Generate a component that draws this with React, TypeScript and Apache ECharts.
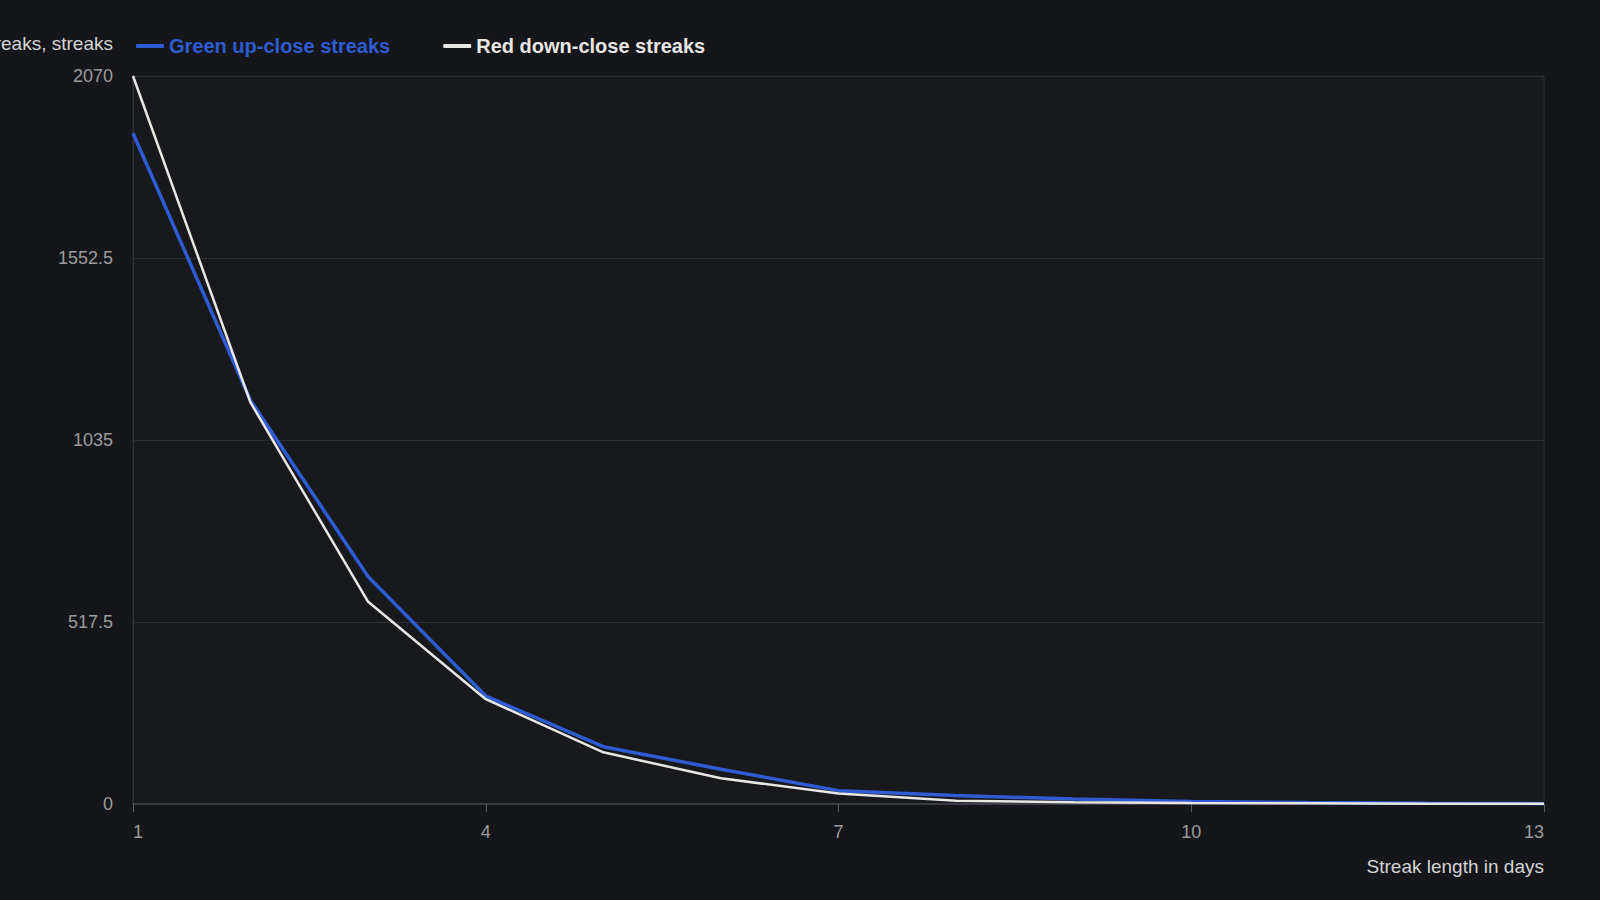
import React, { useEffect, useRef } from "react";
import * as echarts from "echarts";

const streakLengths = ["1", "2", "3", "4", "5", "6", "7", "8", "9", "10", "11", "12", "13"];
const greenUpClose = [1907, 1147, 646, 307, 163, 99, 38, 24, 14, 7, 4, 2, 1];
const redDownClose = [2070, 1141, 575, 298, 147, 73, 30, 9, 5, 3, 2, 1, 1];
const yTicks = { min: 0, max: 2070, interval: 517.5 };

const BG = "#14161a";
const BLUE = "#2f5bd3";
const WHITE = "#e9e7e4";

export default function App() {
  const ref = useRef<HTMLDivElement>(null);
  useEffect(() => {
    document.body.style.margin = "0";
    document.body.style.background = BG;
    const chart = echarts.init(ref.current!, null, { renderer: "svg" });
    chart.setOption({
      animation: false,
      backgroundColor: BG,
      textStyle: { fontFamily: "Liberation Sans, Arial, sans-serif" },
      legend: {
        left: 131,
        top: 31,
        itemGap: 53,
        itemWidth: 28,
        itemHeight: 4,
        icon: "roundRect",
        textStyle: { fontSize: 20, fontWeight: "bold" },
        data: [
          { name: "Green up-close streaks", textStyle: { color: BLUE } },
          { name: "Red down-close streaks", textStyle: { color: WHITE } },
        ],
      },
      grid: {
        left: 133,
        right: 56,
        top: 76,
        bottom: 96,
        containLabel: false,
        outerBoundsMode: "none",
        show: true,
        backgroundColor: "#17191d",
        borderColor: "#2b2e34",
        borderWidth: 1,
      },
      xAxis: {
        type: "category",
        data: streakLengths,
        boundaryGap: false,
        name: "Streak length in days",
        nameLocation: "end",
        nameGap: 0,
        nameTextStyle: {
          color: "#d4d4d4",
          fontSize: 19,
          align: "right",
          verticalAlign: "top",
          padding: [53, 0, 0, 0],
        },
        axisLine: { lineStyle: { color: "#3a3d44", width: 2 } },
        axisTick: { show: true, interval: 2, length: 8, lineStyle: { color: "#5a5d64" } },
        axisLabel: {
          interval: 2,
          color: "#9c9c9c",
          fontSize: 18,
          margin: 19,
          alignMinLabel: "left",
          alignMaxLabel: "right",
        },
        splitLine: { show: false },
      },
      yAxis: {
        type: "value",
        min: yTicks.min,
        max: yTicks.max,
        interval: yTicks.interval,
        name: "Number of streaks, streaks",
        nameLocation: "end",
        nameGap: 23,
        nameTextStyle: {
          color: "#d4d4d4",
          fontSize: 19,
          align: "right",
          padding: [0, 20, 0, 0],
        },
        axisLine: { show: true, lineStyle: { color: "#2e3137" } },
        axisTick: { show: false },
        axisLabel: { color: "#9c9c9c", fontSize: 18, margin: 20, formatter: (v: number) => String(v) },
        splitLine: { lineStyle: { color: "#2a2d33" } },
      },
      series: [
        {
          name: "Green up-close streaks",
          type: "line",
          data: greenUpClose,
          symbol: "none",
          lineStyle: { color: BLUE, width: 3.5 },
          itemStyle: { color: BLUE },
        },
        {
          name: "Red down-close streaks",
          type: "line",
          data: redDownClose,
          symbol: "none",
          lineStyle: { color: WHITE, width: 2.5 },
          itemStyle: { color: WHITE },
        },
      ],
    });
    return () => chart.dispose();
  }, []);
  return <div ref={ref} style={{ width: 1600, height: 900, position: "absolute", left: 0, top: 0 }} />;
}
